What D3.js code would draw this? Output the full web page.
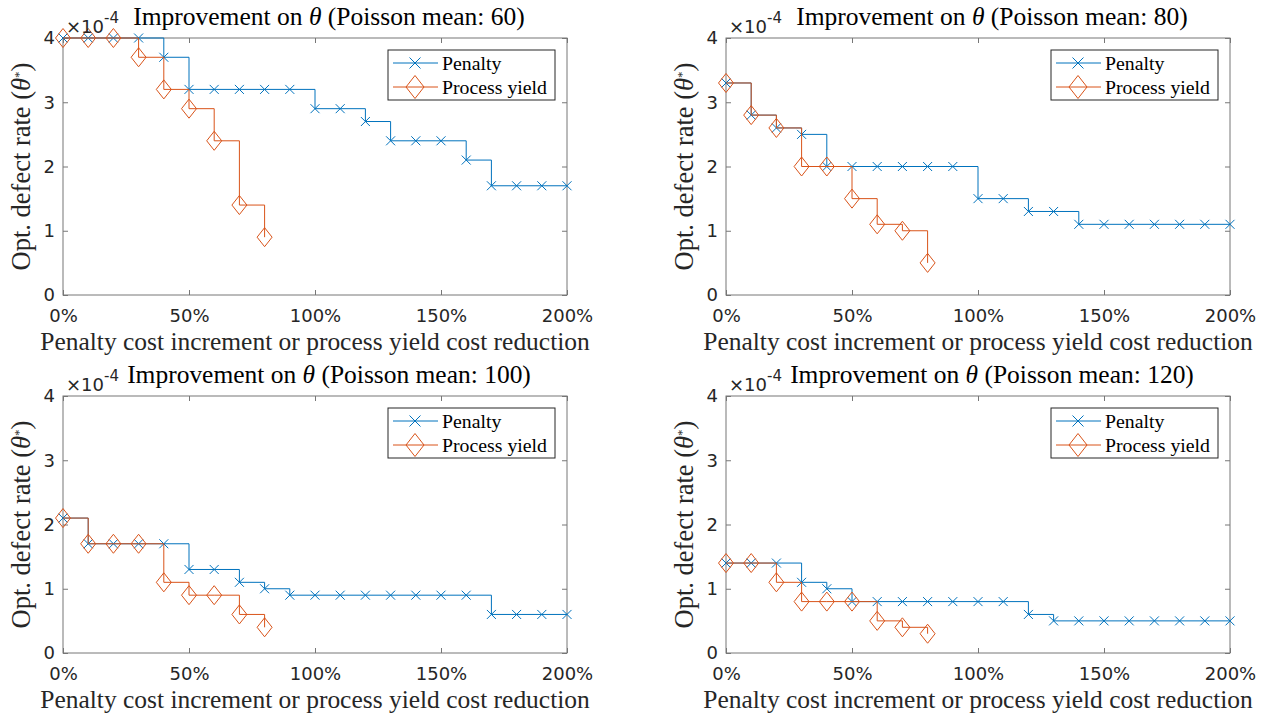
<!DOCTYPE html>
<html>
<head>
<meta charset="utf-8">
<script src="https://cdn.jsdelivr.net/npm/d3@7"></script>
<style>
  body { margin: 0; background: #fff; }
  svg { display: block; }
  .serif { font-family: 'Liberation Serif', 'DejaVu Serif', serif; }
  .sans { font-family: 'DejaVu Sans', 'Liberation Sans', sans-serif; }
</style>
</head>
<body>
<div id="chart"></div>
<script>
// x positions (percent increment / reduction)
const penaltyPct = [0, 10, 20, 30, 40, 50, 60, 70, 80, 90, 100, 110, 120, 130, 140, 150, 160, 170, 180, 190, 200];
const yieldPct = [0, 10, 20, 30, 40, 50, 60, 70, 80];

const xTicks = [0, 50, 100, 150, 200];
const yTicks = [0, 1, 2, 3, 4];

const poissonMeans = [60, 80, 100, 120];

// optimal defect rate, in units of 1e-4
const penalty60 = [4, 4, 4, 4, 3.7, 3.2, 3.2, 3.2, 3.2, 3.2, 2.9, 2.9, 2.7, 2.4, 2.4, 2.4, 2.1, 1.7, 1.7, 1.7, 1.7];
const yield60 = [4, 4, 4, 3.7, 3.2, 2.9, 2.4, 1.4, 0.9];
const penalty80 = [3.3, 2.8, 2.6, 2.5, 2.0, 2.0, 2.0, 2.0, 2.0, 2.0, 1.5, 1.5, 1.3, 1.3, 1.1, 1.1, 1.1, 1.1, 1.1, 1.1, 1.1];
const yield80 = [3.3, 2.8, 2.6, 2.0, 2.0, 1.5, 1.1, 1.0, 0.5];
const penalty100 = [2.1, 1.7, 1.7, 1.7, 1.7, 1.3, 1.3, 1.1, 1.0, 0.9, 0.9, 0.9, 0.9, 0.9, 0.9, 0.9, 0.9, 0.6, 0.6, 0.6, 0.6];
const yield100 = [2.1, 1.7, 1.7, 1.7, 1.1, 0.9, 0.9, 0.6, 0.4];
const penalty120 = [1.4, 1.4, 1.4, 1.1, 1.0, 0.8, 0.8, 0.8, 0.8, 0.8, 0.8, 0.8, 0.6, 0.5, 0.5, 0.5, 0.5, 0.5, 0.5, 0.5, 0.5];
const yield120 = [1.4, 1.4, 1.1, 0.8, 0.8, 0.8, 0.5, 0.4, 0.3];

const penaltySeries = [penalty60, penalty80, penalty100, penalty120];
const yieldSeries = [yield60, yield80, yield100, yield120];

const blue = '#0072BD';
const orange = '#D95319';
const axisColor = '#777';
const textColor = '#262626';

const W = 1267, H = 717;
const plotW = 504, plotH = 257;
const lefts = [63, 726];
const tops = [38, 396];

const svg = d3.select('#chart').append('svg')
	.attr('width', W)
	.attr('height', H);

function fitWidth(sel, target) {
	const w = sel.node().getComputedTextLength();
	const fs = parseFloat(sel.style('font-size'));
	sel.style('font-size', (fs * target / w) + 'px');
}

function crossPath(r) {
	return `M${-r},${-r}L${r},${r}M${-r},${r}L${r},${-r}`;
}

function diamondPath(w, h) {
	return `M0,${-h}L${w},0L0,${h}L${-w},0Z`;
}

function styleTicks(a) {
	a.select('.domain').remove();
	a.selectAll('line').attr('stroke', axisColor);
	a.selectAll('text')
		.attr('class', 'sans')
		.style('font-size', '18px')
		.attr('fill', textColor);
}

function drawPanel(i) {
	const left = lefts[i % 2];
	const top = tops[Math.floor(i / 2)];
	const mean = poissonMeans[i];

	const x = d3.scaleLinear().domain([0, 200]).range([0, plotW]);
	const y = d3.scaleLinear().domain([0, 4]).range([plotH, 0]);

	const g = svg.append('g').attr('transform', `translate(${left},${top})`);

	// ticks inside, on all four sides
	const tickLen = 5;
	g.append('g')
		.attr('transform', `translate(0,${plotH})`)
		.call(d3.axisBottom(x).tickValues(xTicks).tickSizeInner(-tickLen).tickSizeOuter(0).tickPadding(14).tickFormat(d => d + '%'))
		.call(styleTicks);

	g.append('g')
		.call(d3.axisLeft(y).tickValues(yTicks).tickSizeInner(-tickLen).tickSizeOuter(0).tickPadding(8).tickFormat(d3.format('d')))
		.call(styleTicks);

	g.append('g')
		.call(d3.axisTop(x).tickValues(xTicks).tickSizeInner(-tickLen).tickSizeOuter(0).tickFormat(''))
		.call(styleTicks);

	g.append('g')
		.attr('transform', `translate(${plotW},0)`)
		.call(d3.axisRight(y).tickValues(yTicks).tickSizeInner(-tickLen).tickSizeOuter(0).tickFormat(''))
		.call(styleTicks);

	g.append('rect')
		.attr('width', plotW).attr('height', plotH)
		.attr('fill', 'none')
		.attr('stroke', axisColor)
		.attr('stroke-width', 1);

	const line = d3.line()
		.x(d => x(d[0]))
		.y(d => y(d[1]))
		.curve(d3.curveStepAfter);

	const pData = penaltyPct.map((p, k) => [p, penaltySeries[i][k]]);
	const yData = yieldPct.map((p, k) => [p, yieldSeries[i][k]]);

	g.append('path')
		.datum(pData)
		.attr('d', line)
		.attr('fill', 'none')
		.attr('stroke', blue)
		.attr('stroke-width', 1);

	g.selectAll('.pmark')
		.data(pData)
		.enter().append('path')
		.attr('class', 'pmark')
		.attr('transform', d => `translate(${x(d[0])},${y(d[1])})`)
		.attr('d', crossPath(4.5))
		.attr('fill', 'none')
		.attr('stroke', blue)
		.attr('stroke-width', 1);

	g.append('path')
		.datum(yData)
		.attr('d', line)
		.attr('fill', 'none')
		.attr('stroke', orange)
		.attr('stroke-width', 1);

	g.selectAll('.ymark')
		.data(yData)
		.enter().append('path')
		.attr('class', 'ymark')
		.attr('transform', d => `translate(${x(d[0])},${y(d[1])})`)
		.attr('d', diamondPath(7.5, 9.5))
		.attr('fill', 'none')
		.attr('stroke', orange)
		.attr('stroke-width', 1);

	// exponent label
	const expo = g.append('text')
		.attr('class', 'sans')
		.attr('x', 3)
		.attr('y', -5)
		.style('font-size', '18px')
		.attr('fill', textColor);
	expo.append('tspan').text('\u00d710');
	expo.append('tspan').attr('dy', -10).style('font-size', '15px').text('-4');

	// title
	const title = g.append('text')
		.attr('class', 'serif')
		.attr('x', plotW / 2 + 14)
		.attr('y', -13)
		.attr('text-anchor', 'middle')
		.style('font-size', '20px')
		.attr('fill', '#000');
	title.append('tspan').text('Improvement on ');
	title.append('tspan').style('font-style', 'italic').text('\u03b8');
	title.append('tspan').text(` (Poisson mean: ${mean})`);
	fitWidth(title, mean >= 100 ? 404 : 392);

	// x label
	const xl = g.append('text')
		.attr('class', 'serif')
		.attr('x', plotW / 2)
		.attr('y', plotH + 55)
		.attr('text-anchor', 'middle')
		.style('font-size', '20px')
		.attr('fill', textColor)
		.text('Penalty cost increment or process yield cost reduction');
	fitWidth(xl, 550);

	// y label
	const yl = g.append('text')
		.attr('class', 'serif')
		.attr('transform', `translate(-33,${plotH / 2}) rotate(-90)`)
		.attr('text-anchor', 'middle')
		.style('font-size', '20px')
		.attr('fill', textColor);
	yl.append('tspan').text('Opt. defect rate (');
	yl.append('tspan').style('font-style', 'italic').text('\u03b8');
	yl.append('tspan').attr('dy', -7).style('font-size', '13px').text('*');
	yl.append('tspan').attr('dy', 7).text(')');
	fitWidth(yl, 210);

	// legend
	const lgW = 167, lgH = 50;
	const lg = g.append('g').attr('transform', `translate(${plotW - 12 - lgW},12)`);
	lg.append('rect')
		.attr('width', lgW).attr('height', lgH)
		.attr('fill', '#fff')
		.attr('stroke', textColor)
		.attr('stroke-width', 1);

	const entries = [
		{ label: 'Penalty', color: blue, d: crossPath(5.5) },
		{ label: 'Process yield', color: orange, d: diamondPath(9, 11.5) }
	];
	const rows = lg.selectAll('.entry')
		.data(entries)
		.enter().append('g')
		.attr('class', 'entry')
		.attr('transform', (d, k) => `translate(0,${13 + k * 24})`);
	rows.append('line')
		.attr('x1', 5).attr('x2', 50)
		.attr('stroke', d => d.color)
		.attr('stroke-width', 1);
	rows.append('path')
		.attr('transform', 'translate(27,0)')
		.attr('d', d => d.d)
		.attr('fill', 'none')
		.attr('stroke', d => d.color);
	const lt = rows.append('text')
		.attr('class', 'serif')
		.attr('x', 54)
		.attr('dy', '0.33em')
		.style('font-size', '18px')
		.attr('fill', '#000')
		.text(d => d.label);
	const w2 = lt.nodes()[1].getComputedTextLength();
	lt.style('font-size', (18 * 105 / w2) + 'px');
}

for (let i = 0; i < 4; i++) drawPanel(i);
</script>
</body>
</html>
